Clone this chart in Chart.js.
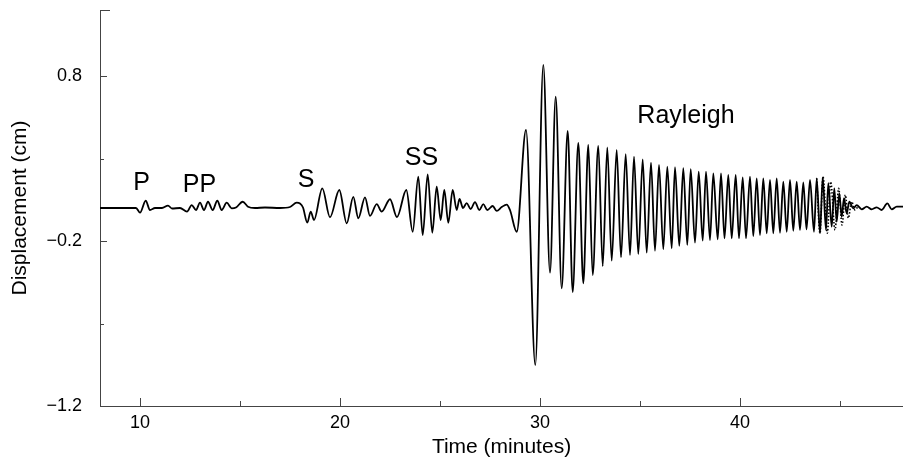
<!DOCTYPE html>
<html>
<head>
<meta charset="utf-8">
<script src="https://cdn.jsdelivr.net/npm/chart.js@4.4.1/dist/chart.umd.min.js"></script>
<style>
html,body{margin:0;padding:0;background:#fff;}
#wrap{width:903px;height:463px;position:relative;}
</style>
</head>
<body>
<div id="wrap"><canvas id="c" width="903" height="463"></canvas></div>
<script>
// ---- Data (extrema and turning points) ----
const bodyWaveTime = [8.00, 9.80, 10.00, 10.285, 10.50, 10.75, 11.10, 11.40, 11.60, 12.00, 12.35, 12.585, 12.80, 13.00, 13.20, 13.40, 13.635, 13.865, 14.085, 14.335, 14.585, 14.80, 15.135, 15.40, 15.75, 16.25, 17.00, 17.50, 17.835, 18.00, 18.15, 18.365, 18.535, 18.70, 19.115, 19.50, 19.965, 20.335, 20.665, 20.915, 21.25, 21.50, 21.835, 22.085, 22.50, 22.85, 23.315, 23.635, 23.915, 24.135, 24.385, 24.615, 24.835, 25.035, 25.215, 25.415, 25.635, 25.835, 25.975, 26.15, 26.335, 26.535, 26.75, 26.965, 27.165, 27.365, 27.635, 27.835, 28.085, 28.335, 28.50];
const bodyWaveDisp = [0, 0, -0.028, 0.044, -0.012, 0, 0, 0.015, -0.003, 0, -0.022, 0.018, -0.012, 0.032, -0.012, 0.038, -0.012, 0.044, -0.012, 0.032, -0.002, 0.003, 0.038, 0.008, 0, 0.003, 0, 0.006, 0.032, 0.027, 0.003, -0.089, -0.022, -0.073, 0.119, -0.056, 0.109, -0.093, 0.068, -0.062, 0.065, -0.048, 0.024, -0.022, 0.053, -0.055, 0.109, -0.144, 0.190, -0.164, 0.204, -0.150, 0.129, -0.073, 0.109, -0.089, 0.109, -0.012, 0.055, 0, 0.030, -0.006, 0.036, -0.012, 0.024, -0.012, 0.012, -0.018, 0.006, 0.021, -0.012];

const surfaceWaveTime = [28.835, 29.30, 29.765, 30.165, 30.50, 30.785, 31.085, 31.385, 31.635, 31.915, 32.165, 32.415, 32.635, 32.915, 33.135, 33.365, 33.585, 33.835, 34.05, 34.285, 34.50, 34.70, 34.915, 35.135, 35.335, 35.55, 35.75, 35.95, 36.165, 36.365, 36.585, 36.75, 36.965, 37.165, 37.365, 37.535, 37.75, 37.935, 38.135, 38.30, 38.50, 38.665, 38.885, 39.05, 39.225, 39.415, 39.585, 39.785, 39.95, 40.135, 40.30, 40.50, 40.665, 40.835, 41.00, 41.165, 41.335, 41.50, 41.665, 41.835, 42.00, 42.165, 42.335, 42.50, 42.665, 42.835, 43.00, 43.165, 43.325, 43.50, 43.70, 43.835, 44.00, 44.135, 44.30, 44.415, 44.585, 44.715, 44.835, 44.965, 45.085, 45.20, 45.335, 45.465];
const surfaceWaveDisp = [-0.144, 0.473, -0.952, 0.867, -0.392, 0.675, -0.487, 0.467, -0.509, 0.394, -0.456, 0.382, -0.406, 0.376, -0.352, 0.368, -0.319, 0.352, -0.299, 0.327, -0.285, 0.311, -0.279, 0.295, -0.271, 0.275, -0.259, 0.261, -0.250, 0.250, -0.244, 0.247, -0.230, 0.241, -0.224, 0.235, -0.210, 0.220, -0.198, 0.220, -0.194, 0.210, -0.190, 0.210, -0.184, 0.200, -0.184, 0.200, -0.184, 0.186, -0.184, 0.190, -0.170, 0.180, -0.164, 0.180, -0.153, 0.170, -0.153, 0.180, -0.150, 0.159, -0.144, 0.170, -0.138, 0.159, -0.133, 0.155, -0.129, 0.170, -0.144, 0.180, -0.153, 0.186, -0.133, 0.150, -0.113, 0.119, -0.083, 0.089, -0.053, 0.059, -0.032, 0.038];

const codaTime = [45.665, 45.835, 46.085, 46.335, 46.585, 46.835, 47.085, 47.365, 47.585, 47.835, 48.15];
const codaDisp = [-0.002, 0.018, -0.008, 0.008, -0.008, 0.004, -0.012, 0.028, -0.008, 0.008, 0.008];

// second (dotted) trace where it separates from the solid one
const dottedTime = [43.835, 44.00, 44.15, 44.365, 44.535, 44.75, 44.935, 45.10, 45.265, 45.415, 45.585, 45.75, 45.90];
const dottedDisp = [0.180, -0.153, 0.190, -0.153, 0.159, -0.133, 0.119, -0.103, 0.079, -0.061, 0.038, -0.012, 0.010];

const xTickValues = [10, 20, 30, 40];
const xMinorTickValues = [15, 25, 35, 45];
const yTickValues = [-1.2, -0.2, 0.8];
const yMinorTickValues = [-0.7, 0.3];

const phaseNames = ['P', 'PP', 'S', 'SS', 'Rayleigh'];
const phaseTime = [10.075, 12.975, 18.30, 24.075, 37.30];
const phaseDisp = [0.150, 0.137, 0.168, 0.300, 0.556];

// ---- build datasets ----
function toPoints(ts, vs) { return ts.map((t, i) => ({x: t, y: vs[i]})); }
const solidPts = toPoints(bodyWaveTime, bodyWaveDisp)
  .concat(toPoints(surfaceWaveTime, surfaceWaveDisp))
  .concat(toPoints(codaTime, codaDisp));
const dottedPts = toPoints(dottedTime, dottedDisp);

const FONT = '"Liberation Sans", Arial, Helvetica, sans-serif';
const fmt = v => (v < 0 ? '\u2212' : '') + Math.abs(v).toFixed(1);

const inwardTicks = {
  id: 'inwardTicks',
  afterDraw(chart) {
    const {ctx, chartArea: a, scales: {x, y}} = chart;
    ctx.save();
    ctx.strokeStyle = '#444';
    ctx.lineWidth = 1;
    ctx.beginPath();
    xTickValues.forEach(v => { const p = Math.round(x.getPixelForValue(v)) + 0.5; ctx.moveTo(p, a.bottom); ctx.lineTo(p, a.bottom - 8); });
    xMinorTickValues.forEach(v => { const p = Math.round(x.getPixelForValue(v)) + 0.5; ctx.moveTo(p, a.bottom); ctx.lineTo(p, a.bottom - 5); });
    yTickValues.forEach(v => { const p = Math.round(y.getPixelForValue(v)) + 0.5; ctx.moveTo(a.left, p); ctx.lineTo(a.left + 7, p); });
    yMinorTickValues.forEach(v => { const p = Math.round(y.getPixelForValue(v)) + 0.5; ctx.moveTo(a.left, p); ctx.lineTo(a.left + 4, p); });
    const topP = Math.round(y.getPixelForValue(y.max)) + 0.5;
    ctx.moveTo(a.left, topP); ctx.lineTo(a.left + 10, topP);
    ctx.stroke();
    // phase annotations
    ctx.fillStyle = '#000';
    ctx.font = '25px ' + FONT;
    ctx.textAlign = 'center';
    ctx.textBaseline = 'middle';
    phaseNames.forEach((n, i) => {
      ctx.fillText(n, x.getPixelForValue(phaseTime[i]), y.getPixelForValue(phaseDisp[i]));
    });
    ctx.restore();
  }
};

new Chart(document.getElementById('c'), {
  type: 'line',
  data: {
    datasets: [
      {data: solidPts, borderColor: '#000', borderWidth: 1.8, pointRadius: 0, cubicInterpolationMode: 'monotone', fill: false},
      {data: dottedPts, borderColor: '#000', borderWidth: 1.6, borderDash: [1.5, 1.8], pointRadius: 0, cubicInterpolationMode: 'monotone', fill: false}
    ]
  },
  options: {
    responsive: false,
    devicePixelRatio: 1,
    animation: false,
    events: [],
    layout: {padding: {top: 10, right: 0, left: 0, bottom: 0}},
    plugins: {legend: {display: false}, tooltip: {enabled: false}, title: {display: false}},
    scales: {
      x: {
        type: 'linear', min: 8, max: 48.15,
        afterBuildTicks: s => { s.ticks = xTickValues.map(v => ({value: v})); },
        afterFit: s => { s.height = 57; s.paddingLeft = 0; s.paddingRight = 0; },
        grid: {display: false, drawTicks: false},
        border: {display: true, color: '#444', width: 1},
        ticks: {color: '#000', font: {family: FONT, size: 18}, padding: 6, maxRotation: 0, callback: v => String(v)},
        title: {display: true, text: 'Time (minutes)', color: '#000', font: {family: FONT, size: 21}, padding: {top: 0, bottom: 3}}
      },
      y: {
        type: 'linear', min: -1.2, max: 1.2,
        afterBuildTicks: s => { s.ticks = yTickValues.map(v => ({value: v})); },
        afterFit: s => { s.width = 100; s.paddingTop = 0; s.paddingBottom = 0; },
        grid: {display: false, drawTicks: false},
        border: {display: true, color: '#444', width: 1},
        ticks: {color: '#000', font: {family: FONT, size: 18}, padding: 18, callback: v => fmt(v)},
        title: {display: true, text: 'Displacement (cm)', color: '#000', font: {family: FONT, size: 21}, padding: {top: 8, bottom: 0}}
      }
    }
  },
  plugins: [inwardTicks]
});
</script>
</body>
</html>
